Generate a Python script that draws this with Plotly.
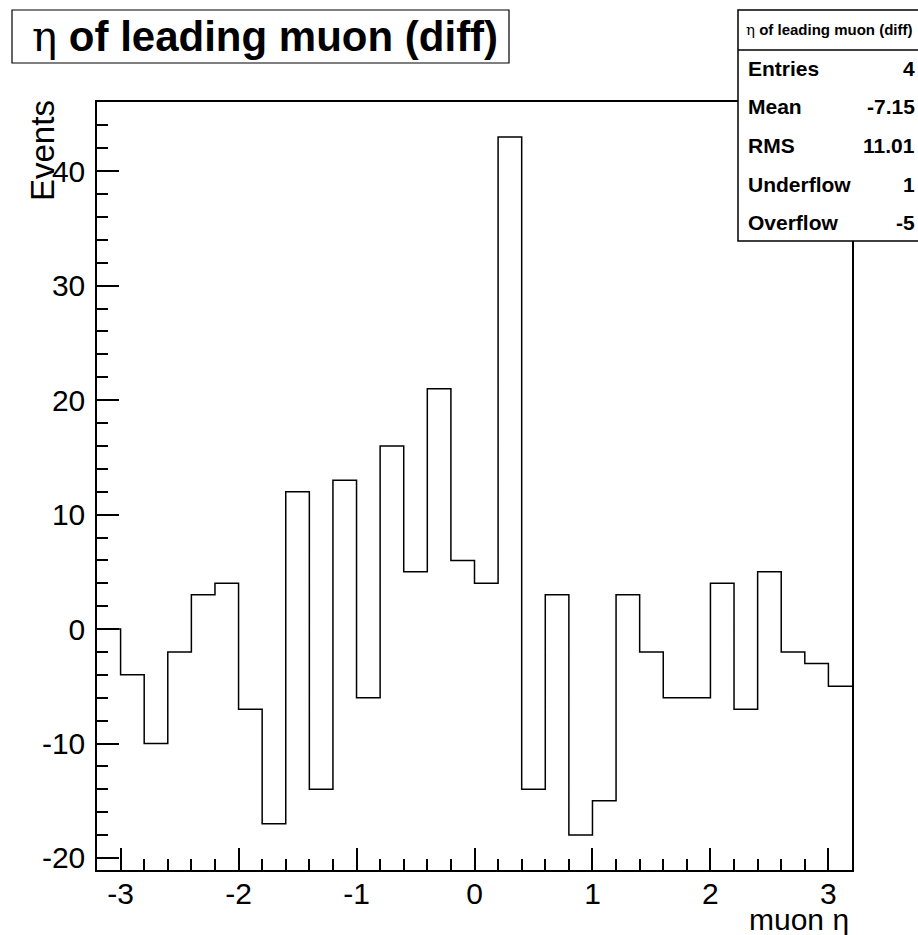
import numpy as np
import plotly.graph_objects as go

# ---- data ----
x_min, x_max, n_bins = -3.2, 3.2, 32
counts = [0, -4, -10, -2, 3, 4, -7, -17, 12, -14, 13, -6, 16, 5, 21, 6,
          4, 43, -14, 3, -18, -15, 3, -2, -6, -6, 4, -7, 5, -2, -3, -5]
stat_labels = ["Entries", "Mean", "RMS", "Underflow", "Overflow"]
stat_values = ["4", "-7.15", "11.01", "1", "-5"]
x_tick_vals = [-3, -2, -1, 0, 1, 2, 3]
x_tick_text = ["-3", "-2", "-1", "0", "1", "2", "3"]
y_tick_vals = [-20, -10, 0, 10, 20, 30, 40]
y_tick_text = ["-20", "-10", "0", "10", "20", "30", "40"]
title_text = "η of leading muon (diff)"
x_title = "muon η"
y_title = "Events"
x_range = [-3.2, 3.2]
y_range = [-21.05, 46.05]

edges = np.linspace(x_min, x_max, n_bins + 1)
ys = counts + [counts[-1]]

W, H = 918, 935
L, R, T, B = 97, 66, 102, 65
PW, PH = W - L - R, H - T - B

def px(x):
    return (x - L) / PW

def py(y):
    return (H - B - y) / PH

FONT = "Liberation Sans, Arial, sans-serif"

fig = go.Figure()
fig.add_trace(go.Scatter(x=list(edges), y=ys, mode="lines",
                         line=dict(shape="hv", color="black", width=1.5),
                         hoverinfo="skip", showlegend=False))

axis_common = dict(showgrid=False, zeroline=False, showline=True, linecolor="black",
                   linewidth=1.5, mirror=True, ticks="inside", tickcolor="black",
                   tickwidth=1.5, tickfont=dict(family=FONT, size=30, color="black"))

fig.update_xaxes(range=x_range, tickmode="array", tickvals=x_tick_vals, ticktext=x_tick_text,
                 ticklen=22, ticklabelstandoff=-4,
                 minor=dict(tickmode="linear", dtick=0.2, tick0=0, ticks="inside", ticklen=11,
                            tickcolor="black", tickwidth=1.5),
                 **axis_common)
fig.update_yaxes(range=y_range, tickmode="array", tickvals=y_tick_vals, ticktext=y_tick_text,
                 ticklen=22, ticklabelstandoff=4,
                 minor=dict(tickmode="linear", dtick=2, tick0=0, ticks="inside", ticklen=11,
                            tickcolor="black", tickwidth=1.5),
                 **axis_common)

shapes = []
annotations = []

# Title box
shapes.append(dict(type="rect", xref="paper", yref="paper",
                   x0=px(12), x1=px(509), y0=py(63), y1=py(10),
                   line=dict(color="black", width=1.2), fillcolor="white", layer="above"))
annotations.append(dict(xref="paper", yref="paper", x=px(265), y=py(37),
                        xanchor="center", yanchor="middle", showarrow=False,
                        text="<span style='font-family:DejaVu Serif'>η</span><b> of leading muon (diff)</b>",
                        font=dict(family=FONT, size=42, color="black")))

# Stats box
sb_x0, sb_x1, sb_y0, sb_y1 = 738, 925, 10, 241
shapes.append(dict(type="rect", xref="paper", yref="paper",
                   x0=px(sb_x0), x1=px(sb_x1), y0=py(sb_y1), y1=py(sb_y0),
                   line=dict(color="black", width=1.5), fillcolor="white", layer="above"))
shapes.append(dict(type="line", xref="paper", yref="paper",
                   x0=px(sb_x0), x1=px(sb_x1), y0=py(50), y1=py(50),
                   line=dict(color="black", width=1.5), layer="above"))
annotations.append(dict(xref="paper", yref="paper", x=px(829), y=py(30),
                        xanchor="center", yanchor="middle", showarrow=False,
                        text="<span style='font-family:DejaVu Serif'>η</span><b> of leading muon (diff)</b>",
                        font=dict(family=FONT, size=15, color="black")))
row_y = [68, 107, 145, 184, 222]
for lab, val, yy in zip(stat_labels, stat_values, row_y):
    annotations.append(dict(xref="paper", yref="paper", x=px(746), y=py(yy),
                            xanchor="left", yanchor="middle", showarrow=False,
                            text="<b>" + lab + "</b>",
                            font=dict(family=FONT, size=21, color="black")))
    annotations.append(dict(xref="paper", yref="paper", x=px(917), y=py(yy),
                            xanchor="right", yanchor="middle", showarrow=False,
                            text="<b>" + val + "</b>",
                            font=dict(family=FONT, size=21, color="black")))

# Axis titles
annotations.append(dict(xref="paper", yref="paper", x=px(851), y=py(901),
                        xanchor="right", yanchor="top", showarrow=False,
                        text=x_title, font=dict(family=FONT, size=30, color="black")))
annotations.append(dict(xref="paper", yref="paper", x=px(22), y=py(98),
                        xanchor="left", yanchor="top", showarrow=False, textangle=-90,
                        text=y_title, font=dict(family=FONT, size=33, color="black")))

fig.update_layout(width=W, height=H, margin=dict(l=L, r=R, t=T, b=B),
                  paper_bgcolor="white", plot_bgcolor="white",
                  shapes=shapes, annotations=annotations, showlegend=False)

fig.write_html("out.html", config={"displayModeBar": False},
               post_script="document.body.style.margin='0';document.body.style.overflow='hidden';")
